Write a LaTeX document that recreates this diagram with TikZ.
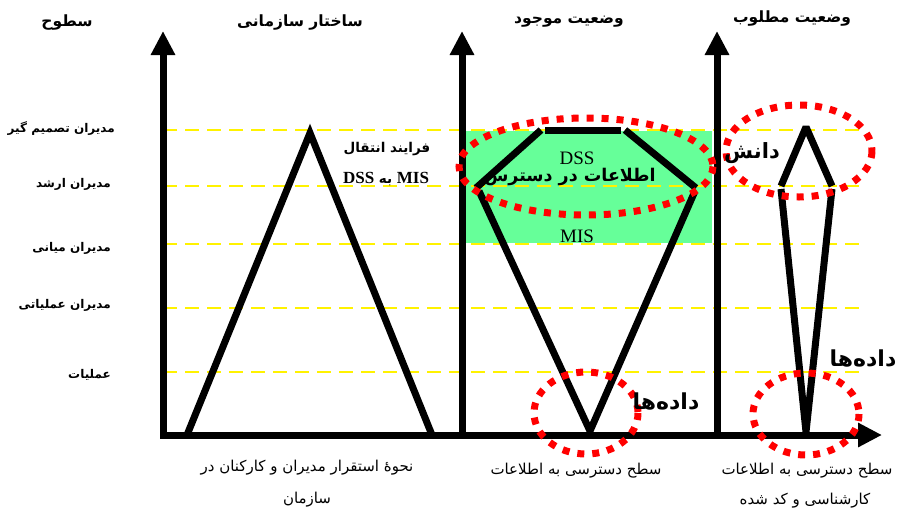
\documentclass[tikz,border=0pt]{standalone}
\usepackage{fontspec}
\usetikzlibrary{arrows.meta}
\TeXXeTstate=1
\newfontfamily\farsifont[Script=Arabic]{DejaVu Sans}
\newfontfamily\latfont{Liberation Serif}
\newcommand{\fatxt}[1]{{\farsifont\beginR #1\endR}}
\definecolor{lgreen}{RGB}{102,255,153}
\begin{document}
\begin{tikzpicture}[x=1pt,y=-1pt,
  axis/.style={line width=7pt,-{Triangle[width=23pt,length=24pt]}},
  thick line/.style={line width=7pt,line cap=butt,line join=miter},
  level line/.style={yellow,line width=2.5pt,dash pattern=on 14pt off 8pt},
  red dots/.style={red,line width=7pt,dash pattern=on 7pt off 8pt},
  head/.style={font=\farsifont\bfseries\fontsize{15.5}{18}\selectfont},
  lvl/.style={anchor=east,font=\farsifont\bfseries\fontsize{12}{14}\selectfont},
  bottom/.style={font=\farsifont\fontsize{15}{17}\selectfont},
  inner sep=0pt]
\useasboundingbox (0,0) rectangle (900,515);
% green band
\fill[lgreen] (466,131) rectangle (712,243);
% level lines
\foreach \yy/\nm in {130/L1,186/L2,244/L3,308/L4,372/L5}{
  \coordinate (\nm a) at (163,\yy);
  \coordinate (\nm b) at (862,\yy);
  \draw[level line] (\nm a) -- (\nm b);
}
% axes
\coordinate (X0) at (160,435);
\coordinate (XE) at (882,435);
\coordinate (V1b) at (163,438); \coordinate (V1t) at (163,31);
\coordinate (V2b) at (462,438); \coordinate (V2t) at (462,31);
\coordinate (V3b) at (717,438); \coordinate (V3t) at (717,31);
\draw[axis] (V1b) -- (V1t);
\draw[axis] (V2b) -- (V2t);
\draw[axis] (V3b) -- (V3t);
\draw[axis] (X0) -- (XE);
% triangle (organisational structure)
\coordinate (TA) at (187,435);
\coordinate (TB) at (310,133);
\coordinate (TC) at (432,435);
\draw[thick line] (TA) -- (TB) -- (TC);
% current state shape
\coordinate (PL) at (476,188);
\coordinate (PT1) at (541,130);
\coordinate (PT2) at (545,130);
\coordinate (PT3) at (621,130);
\coordinate (PT4) at (625,130);
\coordinate (PR) at (696,188);
\coordinate (PL2) at (479,191);
\coordinate (PR2) at (695,191);
\coordinate (PB) at (590,431);
\draw[thick line] (PL) -- (PT1);
\draw[thick line] (PT2) -- (PT3);
\draw[thick line] (PT4) -- (PR);
\draw[thick line,line join=bevel] (PL2) -- (PB) -- (PR2);
% desired state shape
\coordinate (DL) at (781,186);
\coordinate (DT) at (806,127);
\coordinate (DR) at (832,186);
\coordinate (DL2) at (781,189);
\coordinate (DR2) at (832,189);
\coordinate (DB) at (806,432);
\draw[thick line,line join=bevel] (DL) -- (DT) -- (DR);
\draw[thick line,line join=bevel] (DL2) -- (DB) -- (DR2);
% red dotted ellipses
\coordinate (E1) at (586,166.5);
\coordinate (E2) at (799,151);
\coordinate (C1) at (586,413);
\coordinate (C2) at (806,414);
\draw[red dots] (E1) ellipse [x radius=127, y radius=48.5];
\draw[red dots] (E2) ellipse [x radius=73, y radius=46];
\draw[red dots] (C1) ellipse [x radius=52, y radius=41];
\draw[red dots] (C2) ellipse [x radius=53, y radius=41];
% headers
\node[head] (h1) at (67,22) {\fatxt{سطوح}};
\node[head] (h2) at (300,22) {\fatxt{ساختار سازمانی}};
\node[head] (h3) at (569,22) {\fatxt{وضعیت موجود}};
\node[head] (h4) at (792,18) {\fatxt{وضعیت مطلوب}};
% level labels
\node[lvl] (l1) at (115,129) {\fatxt{مدیران تصمیم گیر}};
\node[lvl] (l2) at (111,184) {\fatxt{مدیران ارشد}};
\node[lvl] (l3) at (111,248) {\fatxt{مدیران میانی}};
\node[lvl] (l4) at (111,305) {\fatxt{مدیران عملیاتی}};
\node[lvl] (l5) at (111,375) {\fatxt{عملیات}};
% transfer text
\node[font=\farsifont\bfseries\fontsize{13.5}{15}\selectfont] (t1) at (387,149) {\fatxt{فرایند انتقال}};
\node[font=\farsifont\bfseries\fontsize{13.5}{15}\selectfont] (t2) at (386,179) {\beginR\beginL{\latfont\bfseries\fontsize{17}{19}\selectfont MIS}\endL{} به \beginL{\latfont\bfseries\fontsize{17}{19}\selectfont DSS}\endL\endR};
% inside green band
\node[font=\latfont\fontsize{19}{21}\selectfont] (dss) at (577,158) {DSS};
\node[font=\farsifont\bfseries\fontsize{17.5}{20}\selectfont] (ava) at (570,177) {\fatxt{اطلاعات در دسترس}};
\node[font=\latfont\fontsize{19}{21}\selectfont] (mis) at (577,236) {MIS};
% knowledge & data
\node[font=\farsifont\bfseries\fontsize{21}{24}\selectfont] (kn) at (752,153) {\fatxt{دانش}};
\node[font=\farsifont\bfseries\fontsize{22}{25}\selectfont] (d1) at (666,401) {\fatxt{داده‌ها}};
\node[font=\farsifont\bfseries\fontsize{22}{25}\selectfont] (d2) at (863,358) {\fatxt{داده‌ها}};
% bottom labels
\node[bottom] (b1) at (307,468) {\fatxt{نحوهٔ استقرار مدیران و کارکنان در}};
\node[bottom] (b2) at (307,500) {\fatxt{سازمان}};
\node[bottom] (b3) at (576,471) {\fatxt{سطح دسترسی به اطلاعات}};
\node[bottom] (b4) at (807,471) {\fatxt{سطح دسترسی به اطلاعات}};
\node[bottom] (b5) at (805,501) {\fatxt{کارشناسی و کد شده}};
\end{tikzpicture}
\end{document}
